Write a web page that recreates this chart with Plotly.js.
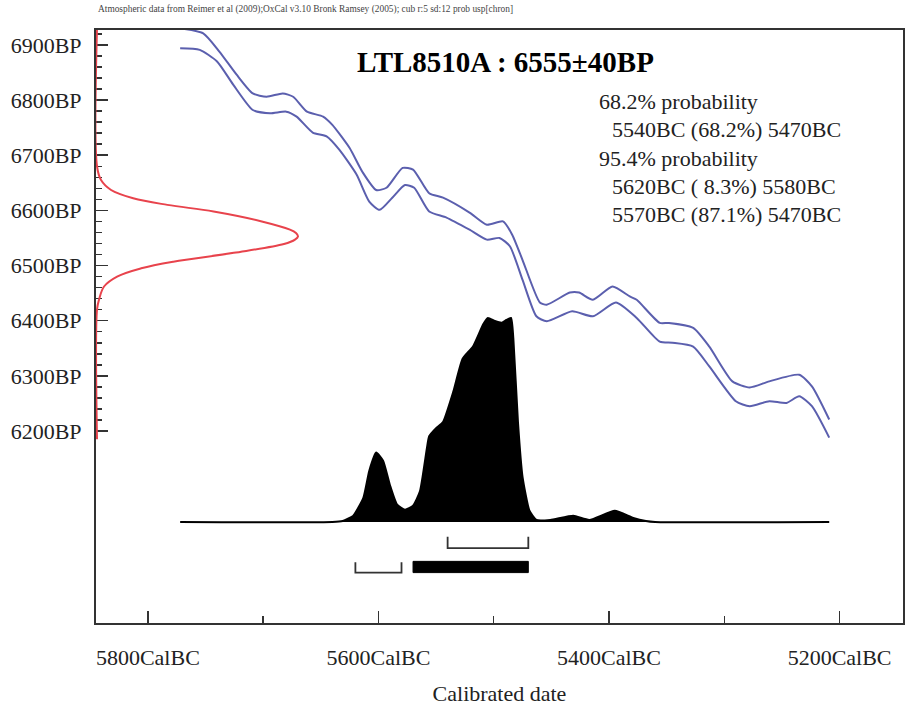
<!DOCTYPE html>
<html>
<head>
<meta charset="utf-8">
<script src="https://cdn.plot.ly/plotly-3.0.1.min.js"></script>
<style>html,body{margin:0;padding:0;background:#fff;}#chart{width:905px;height:711px;}</style>
</head>
<body>
<div id="chart"></div>
<script>
// ---- Data ----
const sampleName = "LTL8510A";
const bpMean = 6555;
const bpSigma = 40;
const headerText = "Atmospheric data from Reimer et al (2009);OxCal v3.10 Bronk Ramsey (2005); cub r:5 sd:12 prob usp[chron]";

// Calibration curve (cal BC) upper / lower 1-sigma envelope (BP)
const curveUpperYear = [5772,5752,5738,5723,5709,5697,5683,5674,5662,5648,5640,5625,5614,5602,5593,5579,5570,5556,5544,5521,5506,5492,5484,5475,5460,5454,5434,5426,5414,5397,5382,5376,5356,5348,5327,5313,5293,5278,5261,5235,5224,5209];
const curveUpperBP   = [6930,6921,6888,6846,6812,6806,6812,6806,6779,6770,6755,6713,6670,6637,6641,6677,6674,6631,6623,6596,6574,6580,6556,6510,6433,6429,6451,6451,6438,6462,6444,6438,6396,6396,6387,6353,6290,6279,6290,6302,6281,6221];
const curveLowerYear = [5772,5755,5740,5726,5709,5694,5680,5671,5657,5645,5634,5619,5608,5599,5588,5577,5569,5556,5541,5521,5506,5495,5486,5475,5463,5454,5432,5414,5394,5376,5356,5345,5327,5313,5290,5278,5261,5246,5235,5224,5209];
const curveLowerBP   = [6894,6891,6870,6828,6782,6776,6779,6770,6741,6734,6710,6665,6616,6601,6623,6646,6641,6598,6587,6565,6547,6550,6535,6474,6408,6399,6417,6408,6433,6405,6362,6360,6353,6317,6254,6245,6254,6251,6263,6245,6188];

// Radiocarbon date distribution (BP, relative density)
const c14BP      = [6185,6420,6438,6462,6480,6495,6507,6523,6539,6547,6553,6559,6565,6580,6598,6610,6622,6637,6655,6680,6930];
const c14Density = [0,   0,   0.01,0.035,0.10,0.22,0.38,0.68,0.93,0.985,1.0,0.99,0.96,0.82,0.58,0.35,0.18,0.07,0.02,0,   0];

// Calibrated probability distribution (cal BC, relative)
const calYear = [5772,5640,5631,5622,5613,5608,5602,5596,5590,5584,5577,5570,5564,5558,5556,5550,5544,5535,5527,5518,5509,5505,5499,5493,5489,5485,5483,5479,5475,5469,5463,5451,5431,5417,5395,5379,5368,5360,5209];
const calProb = [0,   0,   0.005,0.03,0.12,0.25,0.34,0.30,0.18,0.087,0.06,0.08,0.15,0.36,0.42,0.46,0.49,0.64,0.80,0.86,0.97,1.0,0.985,0.977,0.99,1.0,0.90,0.49,0.22,0.055,0.01,0.01,0.03,0.01,0.055,0.02,0.005,0,0];

// Probability ranges
const range68From = [5540];
const range68To   = [5470];
const range68Pct  = [68.2];
const range95From = [5620, 5570];
const range95To   = [5580, 5470];
const range95Pct  = [8.3, 87.1];

// Axis ticks
const xTickVals = [5800, 5600, 5400, 5200];
const xTickText = ["5800CalBC", "5600CalBC", "5400CalBC", "5200CalBC"];
const xMinorVals = [5700, 5500, 5300];
const yTickVals = [6200, 6300, 6400, 6500, 6600, 6700, 6800, 6900];
const yTickText = ["6200BP", "6300BP", "6400BP", "6500BP", "6600BP", "6700BP", "6800BP", "6900BP"];

// ---- Build chart ----
const blue = "#5b5fae";
const red = "#e8434c";
const serif = "Liberation Serif, Times New Roman, serif";

const yMinor = [];
for (let v = yTickVals[0]; v <= yTickVals[yTickVals.length - 1] + 20; v += 20) {
  if (yTickVals.indexOf(v) < 0) yMinor.push(v);
}

const traces = [];
traces.push({x: curveUpperYear, y: curveUpperBP, type: "scatter", mode: "lines",
  line: {color: blue, width: 2, shape: "spline", smoothing: 0.6}, hoverinfo: "skip"});
traces.push({x: curveLowerYear, y: curveLowerBP, type: "scatter", mode: "lines",
  line: {color: blue, width: 2, shape: "spline", smoothing: 0.6}, hoverinfo: "skip"});
traces.push({x: calYear, y: calProb, xaxis: "x", yaxis: "y2", type: "scatter", mode: "lines",
  fill: "tozeroy", fillcolor: "#000", line: {color: "#000", width: 2, shape: "spline", smoothing: 0.5}, hoverinfo: "skip"});
traces.push({x: c14Density, y: c14BP, xaxis: "x2", yaxis: "y", type: "scatter", mode: "lines",
  line: {color: red, width: 2, shape: "spline", smoothing: 1}, hoverinfo: "skip"});

// brackets
function bracket(a, b, top, bottom) {
  return {x: [a, a, b, b], y: [top, bottom, bottom, top], xaxis: "x", yaxis: "y2",
    type: "scatter", mode: "lines", line: {color: "#333", width: 1.8}, hoverinfo: "skip"};
}
function bar(a, b, top, bottom) {
  return {x: [a, b, b, a, a], y: [top, top, bottom, bottom, top], xaxis: "x", yaxis: "y2",
    type: "scatter", mode: "lines", fill: "toself", fillcolor: "#000", line: {color: "#000", width: 1}, hoverinfo: "skip"};
}
for (let i = 0; i < range68From.length; i++) {
  traces.push(bracket(range68From[i], range68To[i], -0.072, -0.128));
}
for (let i = 0; i < range95From.length; i++) {
  if (range95Pct[i] > 50) traces.push(bar(range95From[i], range95To[i], -0.193, -0.248));
  else traces.push(bracket(range95From[i], range95To[i], -0.197, -0.248));
}

function fmtPct(p) {
  const s = p.toFixed(1) + "%";
  return s.length < 5 ? " " + s : s;
}
const probLines = [];
probLines.push({t: "68.2% probability", ind: false});
for (let i = 0; i < range68From.length; i++)
  probLines.push({t: range68From[i] + "BC (" + fmtPct(range68Pct[i]) + ") " + range68To[i] + "BC", ind: true});
probLines.push({t: "95.4% probability", ind: false});
for (let i = 0; i < range95From.length; i++)
  probLines.push({t: range95From[i] + "BC (" + fmtPct(range95Pct[i]) + ") " + range95To[i] + "BC", ind: true});

const annotations = [];
annotations.push({xref: "paper", yref: "paper", x: 0, y: 1.034, xanchor: "left", yanchor: "middle",
  text: headerText, showarrow: false, font: {family: serif, size: 9.4, color: "#444"}});
annotations.push({xref: "paper", yref: "paper", x: 0.507, y: 0.946, xanchor: "center", yanchor: "middle",
  text: "<b>" + sampleName + " : " + bpMean + "±" + bpSigma + "BP</b>", showarrow: false,
  font: {family: serif, size: 29, color: "#000"}});
const lineYs = [0.8786, 0.8314, 0.7841, 0.7369, 0.6897];
probLines.forEach((l, i) => {
  annotations.push({xref: "paper", yref: "paper", x: l.ind ? 0.637 : 0.621, y: lineYs[i],
    xanchor: "left", yanchor: "middle", text: l.t.replace(/ /g, "&nbsp;"), showarrow: false,
    font: {family: serif, size: 22, color: "#222"}});
});

const layout = {
  width: 905, height: 711,
  margin: {l: 96, r: 2, t: 30, b: 88},
  paper_bgcolor: "#fff", plot_bgcolor: "#fff",
  showlegend: false,
  xaxis: {
    range: [5845, 5145], tickmode: "array", tickvals: xTickVals, ticktext: xTickText,
    ticks: "inside", ticklen: 12, tickwidth: 1.5, tickcolor: "#333",
    minor: {tickmode: "array", tickvals: xMinorVals, ticks: "inside", ticklen: 7, tickwidth: 1.5, tickcolor: "#333"},
    showgrid: false, zeroline: false, showline: true, linecolor: "#333", linewidth: 2, mirror: true,
    ticklabelstandoff: 14,
    tickfont: {family: serif, size: 22, color: "#222"},
    title: {text: "Calibrated date", font: {family: serif, size: 22, color: "#222"}, standoff: 16},
    layer: "below traces"
  },
  yaxis: {
    range: [5852, 6927], tickmode: "array", tickvals: yTickVals, ticktext: yTickText,
    ticks: "inside", ticklen: 12, tickwidth: 1.5, tickcolor: "#333",
    minor: {tickmode: "array", tickvals: yMinor, ticks: "inside", ticklen: 6, tickwidth: 1.5, tickcolor: "#333"},
    showgrid: false, zeroline: false, showline: true, linecolor: "#333", linewidth: 2, mirror: true,
    ticklabelstandoff: 8,
    tickfont: {family: serif, size: 22, color: "#222"},
    layer: "below traces"
  },
  yaxis2: {overlaying: "y", range: [-0.495, 2.411], visible: false, anchor: "x"},
  xaxis2: {overlaying: "x", range: [-0.005, 4.01], visible: false, anchor: "y"},
  annotations: annotations
};

Plotly.newPlot("chart", traces, layout, {staticPlot: true, displayModeBar: false});
</script>
</body>
</html>
